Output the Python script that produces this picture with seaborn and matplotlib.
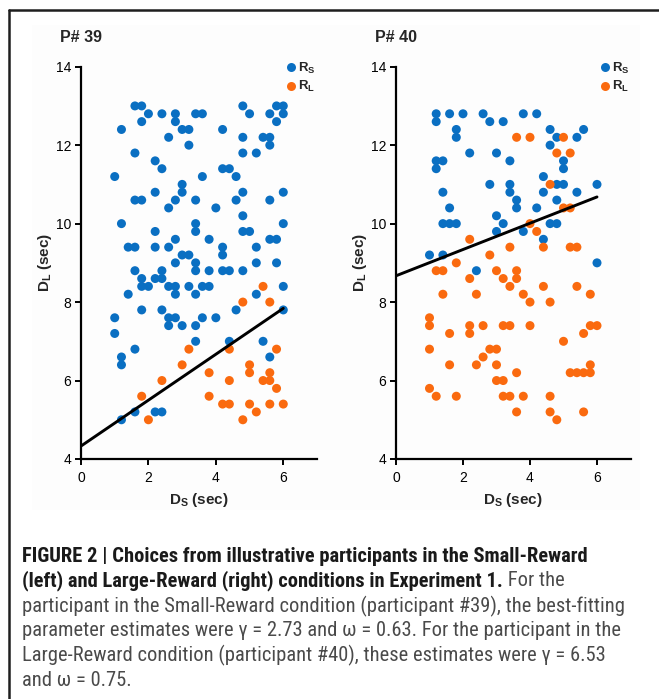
import os
import matplotlib
matplotlib.use("Agg")
import matplotlib.pyplot as plt
import matplotlib.font_manager as fm
from matplotlib.lines import Line2D
from matplotlib.patches import Rectangle
import seaborn as sns
import pandas as pd

# ---------------- data ----------------
# Participant 39 (Small-Reward)
p39_rs_x = [1.0,1.2,1.6,1.8,1.8,2.0,1.6,2.2,2.4,2.4,2.6,2.8,2.8,3.0,3.2,3.2,3.4,3.6,3.6,4.2,4.2,4.4,4.6,4.8,5.0,4.8,4.8,5.2,5.4,5.6,5.6,5.6,5.8,6.0,5.8,6.0,
            3.0,3.0,2.2,1.6,1.8,2.8,2.6,3.4,4.0,4.8,4.6,4.8,5.6,6.0,1.2,3.4,3.4,2.2,4.8,5.0,6.0,1.4,1.6,2.2,2.6,2.8,3.8,4.2,4.2,3.0,3.2,2.8,3.4,5.2,5.2,5.6,5.8,5.8,
            1.6,1.8,1.8,2.0,2.2,2.4,2.4,2.6,2.8,2.8,3.2,3.4,3.4,3.6,3.8,3.8,4.2,4.4,4.8,1.4,1.8,2.4,1.0,2.6,2.8,3.6,4.0,4.6,5.2,6.0,6.0,
            1.0,2.6,3.0,3.4,3.4,4.4,5.4,1.2,1.2,1.6,5.6,1.2,1.6,2.2,2.4]
p39_rs_y = [11.2,12.4,13.0,13.0,12.6,12.8,11.8,11.6,11.4,12.8,12.2,12.8,12.6,12.4,12.4,12.0,12.8,12.8,11.2,12.4,11.4,11.4,11.2,13.0,12.8,12.2,11.8,11.8,12.2,12.2,12.0,12.8,13.0,13.0,12.6,12.8,
            11.0,10.8,10.8,10.6,10.6,10.6,10.4,10.6,10.4,10.8,10.6,10.2,10.6,10.8,10.0,10.0,9.8,9.8,9.8,9.8,10.0,9.4,9.4,9.4,9.4,9.6,9.6,9.4,9.2,9.2,9.2,9.0,9.0,9.4,9.0,9.6,9.6,9.0,
            8.8,8.6,8.4,8.4,8.6,8.6,8.8,8.4,8.4,8.2,8.4,8.8,8.2,8.4,8.4,8.8,8.8,8.8,8.8,8.2,7.8,7.8,7.6,7.6,7.6,7.6,7.6,7.8,8.2,8.4,7.8,
            7.2,7.4,7.4,7.4,7.0,7.0,7.0,6.6,6.4,6.8,6.6,5.0,5.2,5.2,5.2]
p39_rl_x = [4.8,5.4,5.6,3.2,3.0,2.4,1.8,2.0,3.8,3.8,4.4,4.4,4.2,4.4,4.8,5.0,5.0,5.0,5.2,5.4,5.6,5.6,5.6,5.8,5.8,6.0]
p39_rl_y = [8.0,8.4,8.0,6.8,6.4,6.0,5.6,5.0,6.2,5.6,6.8,6.0,5.4,5.4,5.0,6.4,6.2,5.4,5.2,6.0,6.2,6.0,5.4,6.8,5.8,5.4]
p39_fit_x = [0.0, 6.0]
p39_fit_y = [4.33, 7.84]

# Participant 40 (Large-Reward)
p40_rs_x = [1.2,1.2,1.6,2.0,1.8,1.8,2.6,2.8,3.2,3.8,4.2,2.2,3.0,3.4,1.2,1.4,1.2,4.6,4.8,4.6,5.0,5.0,5.4,5.6,4.4,
            2.8,3.4,3.4,3.6,3.6,1.4,1.6,1.4,1.6,1.8,1.0,1.4,3.0,3.2,3.0,3.8,4.2,4.4,4.8,5.0,4.8,4.6,4.8,4.4,5.4,6.0,6.0,2.4]
p40_rs_y = [12.8,12.6,12.8,12.8,12.4,12.2,12.8,12.6,12.6,12.8,12.8,11.8,11.8,11.6,11.6,11.6,11.4,12.4,12.2,12.0,11.6,11.4,12.2,12.4,11.2,
            11.0,11.0,10.8,10.6,10.4,10.8,10.4,10.0,10.0,10.0,9.2,9.2,10.2,10.0,9.8,9.8,10.4,10.8,11.0,11.0,10.6,10.0,10.0,9.6,10.8,11.0,9.0,8.8]
p40_rl_x = [3.6,4.0,5.0,4.8,5.2,
            4.6,5.0,5.2,4.0,4.2,2.2,3.4,4.4,5.2,5.4,2.8,1.2,1.4,1.8,3.0,3.6,3.6,3.2,2.2,3.4,4.4,5.4,1.4,2.4,3.8,4.0,4.6,5.8,
            1.0,1.0,2.2,2.6,3.2,3.4,4.0,5.8,6.0,
            1.6,2.2,1.0,1.6,2.4,2.6,2.8,3.0,3.0,3.0,3.2,3.6,1.0,1.2,1.8,3.2,3.4,3.8,3.6,4.6,4.6,4.8,5.0,5.6,5.2,5.4,5.6,5.8,5.8,5.6]
p40_rl_y = [12.2,12.2,12.2,11.8,11.8,
            11.0,10.4,10.4,10.0,9.8,9.6,9.4,9.4,9.4,9.4,9.2,8.8,8.8,9.0,8.8,8.8,8.6,8.6,8.6,8.4,8.4,8.4,8.2,8.2,8.2,8.0,8.0,8.2,
            7.6,7.4,7.4,7.4,7.4,7.4,7.4,7.4,7.4,
            7.2,7.2,6.8,6.4,6.4,6.6,6.8,6.8,6.4,6.0,6.0,6.2,5.8,5.6,5.6,5.6,5.6,5.6,5.2,5.6,5.2,5.0,7.0,7.2,6.2,6.2,6.2,6.2,6.4,5.2]
p40_fit_x = [0.0, 6.0]
p40_fit_y = [8.67, 10.68]

titles = ["P# 39", "P# 40"]
x_ticks = [0, 2, 4, 6]
y_ticks = [4, 6, 8, 10, 12, 14]
labels = [r"$\mathbf{R_S}$", r"$\mathbf{R_L}$"]

# ---------------- style ----------------
sns.set_style("white")
plt.rcParams["font.family"] = ["Liberation Sans", "DejaVu Sans"]
plt.rcParams["mathtext.fontset"] = "custom"
plt.rcParams["mathtext.rm"] = "Liberation Sans"
plt.rcParams["mathtext.bf"] = "Liberation Sans:bold"
plt.rcParams["mathtext.it"] = "Liberation Sans:italic"

BLUE = "#0A6FC2"
ORANGE = "#FA6A0F"

W, H = 659, 699
fig = plt.figure(figsize=(W / 100, H / 100), dpi=100)

# faint panel background and frame lines
bg = Rectangle((32 / W, 1 - 510 / H), 608 / W, 485 / H, transform=fig.transFigure,
               facecolor="#fdfdfd", edgecolor="none", zorder=-10)
fig.patches.append(bg)
fig.add_artist(Line2D([8.5 / W, 1.0], [1 - 10 / H, 1 - 10 / H], color="#1e1e1e", lw=1.8))
fig.add_artist(Line2D([8.5 / W, 8.5 / W], [1 - 10 / H, 0.0], color="#1e1e1e", lw=1.8))

ax_bottom = 1 - 459 / H
ax_h = (459 - 66.7) / H
axes = [fig.add_axes([81 / W, ax_bottom, 236 / W, ax_h]),
        fig.add_axes([396 / W, ax_bottom, 234.5 / W, ax_h])]
for ax in axes:
    ax.patch.set_alpha(0)
    ax.set_zorder(5)

series = [(p39_rs_x, p39_rs_y, p39_rl_x, p39_rl_y, p39_fit_x, p39_fit_y),
          (p40_rs_x, p40_rs_y, p40_rl_x, p40_rl_y, p40_fit_x, p40_fit_y)]

for ax, (rsx, rsy, rlx, rly, fx, fy), title in zip(axes, series, titles):
    df = pd.DataFrame({
        "Ds": list(rsx) + list(rlx),
        "DL": list(rsy) + list(rly),
        "choice": [labels[0]] * len(rsx) + [labels[1]] * len(rlx),
    })
    sns.scatterplot(data=df, x="Ds", y="DL", hue="choice", hue_order=labels,
                    palette=[BLUE, ORANGE], s=42, linewidth=0, edgecolor="none",
                    ax=ax, zorder=3, clip_on=False)
    sns.lineplot(x=fx, y=fy, ax=ax, color="black", linewidth=2.1, zorder=4)
    ax.set_xlim(0, 7)
    ax.set_ylim(4, 14)
    ax.set_xticks(x_ticks)
    ax.set_yticks(y_ticks)
    ax.tick_params(axis="both", direction="out", length=4, width=1.4, labelsize=10,
                   colors="black", bottom=True, left=True)
    ax.tick_params(axis="x", pad=5)
    ax.tick_params(axis="y", pad=3)
    for side in ["top", "right"]:
        ax.spines[side].set_visible(False)
    for side in ["left", "bottom"]:
        ax.spines[side].set_color("black")
        ax.spines[side].set_linewidth(1.6)
    ax.set_xlabel(r"$\mathbf{D_S}$ (sec)", fontsize=11, fontweight="bold", labelpad=4)
    ax.set_ylabel(r"$\mathbf{D_L}$ (sec)", fontsize=11, fontweight="bold", labelpad=1)
    ax.grid(False)
    sns.move_legend(ax, "upper left", bbox_to_anchor=(0.862, 1.015), frameon=False, title=None,
                    handletextpad=0.05, borderpad=0, labelspacing=0.25, handlelength=1.0,
                    borderaxespad=0, fontsize=9.5, markerscale=1.0)

fig.text(60 / W, 1 - 38 / H, titles[0], fontsize=11.5, fontweight="bold", va="center", ha="left")
fig.text(375 / W, 1 - 38 / H, titles[1], fontsize=11.5, fontweight="bold", va="center", ha="left")

# ---------------- caption ----------------
def find_narrow(bold):
    prefs = ["Liberation Sans Narrow", "Roboto Condensed", "Open Sans Condensed", "DejaVu Sans", "Noto Sans", "Roboto", "Open Sans"]
    for pref in prefs:
        for f in fm.fontManager.ttflist:
            base = os.path.basename(f.fname)
            if f.name != pref:
                continue
            if not ("Narrow" in base or "Condensed" in base or "Narrow" in f.name or "Condensed" in f.name):
                continue
            if "Italic" in base or "Oblique" in base:
                continue
            is_bold = (f.weight in ("bold", 700, "700")) or ("Bold" in base)
            if is_bold != bold:
                continue
            if not bold and ("Light" in base or "Medium" in base or "Semi" in base or "Thin" in base or "Black" in base or "Extra" in base):
                continue
            return fm.FontProperties(fname=f.fname)
    return None

fp_reg = find_narrow(False)
fp_bold = find_narrow(True)
narrow = True
if fp_reg is None or fp_bold is None:
    narrow = False
    fp_reg = fm.FontProperties(family="Liberation Sans", weight="normal")
    fp_bold = fm.FontProperties(family="Liberation Sans", weight="bold")

DARK = "#1a1a1a"
GRAY = "#4a4a4a"
caption_lines = [
    [("FIGURE 2 | Choices from illustrative participants in the Small-Reward", True, DARK)],
    [("(left) and Large-Reward (right) conditions in Experiment 1.", True, DARK), (" For the", False, GRAY)],
    [("participant in the Small-Reward condition (participant #39), the best-fitting", False, GRAY)],
    [("parameter estimates were \u03b3 = 2.73 and \u03c9 = 0.63. For the participant in the", False, GRAY)],
    [("Large-Reward condition (participant #40), these estimates were \u03b3 = 6.53", False, GRAY)],
    [("and \u03c9 = 0.75.", False, GRAY)],
]
line_y = [557, 581, 606, 631, 655, 680]

fig.canvas.draw()
renderer = fig.canvas.get_renderer()

pb = fp_bold.copy()
pb.set_size(12)
probe = fig.text(0, 0, caption_lines[0][0][0], fontproperties=pb)
wpx = probe.get_window_extent(renderer).width
probe.remove()
cap_size = 12 * 618 / wpx
if narrow:
    cap_size = min(14.8, cap_size)

for segs, yc in zip(caption_lines, line_y):
    x = 22.0
    for txt, bold, col in segs:
        fp = (fp_bold if bold else fp_reg).copy()
        fp.set_size(cap_size)
        t = fig.text(x / W, 1 - yc / H, txt, fontproperties=fp, color=col, va="center", ha="left")
        x += t.get_window_extent(renderer).width

fig.savefig("out.png", dpi=100)
